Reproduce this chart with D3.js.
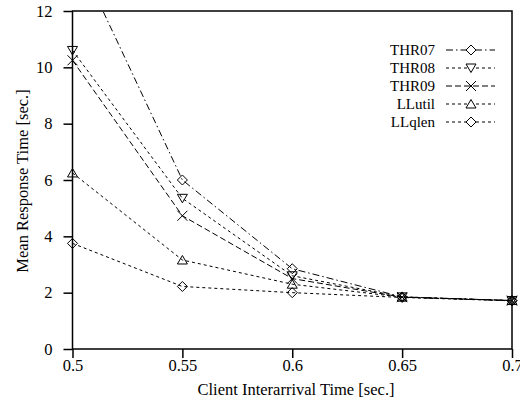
<!DOCTYPE html>
<html><head><meta charset="utf-8">
<script src="https://cdn.jsdelivr.net/npm/d3@7"></script>
<style>
body{margin:0;background:#fff;}
</style></head>
<body><svg id="c" width="520" height="411"></svg>
<script>
const xValues = [0.5, 0.55, 0.6, 0.65, 0.7];
const seriesNames = ["THR07", "THR08", "THR09", "LLutil", "LLqlen"];
const thr07 = [14.3, 6.0, 2.85, 1.85, 1.72];
const thr08 = [10.6, 5.35, 2.6, 1.85, 1.72];
const thr09 = [10.25, 4.73, 2.5, 1.84, 1.72];
const llutil = [6.25, 3.16, 2.3, 1.84, 1.72];
const llqlen = [3.75, 2.22, 2.0, 1.83, 1.71];
const xTicks = [0.5, 0.55, 0.6, 0.65, 0.7];
const yTicks = [0, 2, 4, 6, 8, 10, 12];

const series = [
  {name: seriesNames[0], values: thr07, dash: "7,3,1.5,3", marker: "diamond"},
  {name: seriesNames[1], values: thr08, dash: "3,3", marker: "tridown"},
  {name: seriesNames[2], values: thr09, dash: "6,3", marker: "cross"},
  {name: seriesNames[3], values: llutil, dash: "3,3", marker: "triup"},
  {name: seriesNames[4], values: llqlen, dash: "3,3", marker: "diamond"}
];

const FONT = "'Liberation Serif', Tinos, 'Times New Roman', serif";
const svg = d3.select("#c").style("font-family", FONT);
const L = 72.5, R = 512, T = 11, B = 349;
const x = d3.scaleLinear().domain([0.5, 0.7]).range([L, R]);
const y = d3.scaleLinear().domain([0, 12]).range([B, T]);

svg.append("defs").append("clipPath").attr("id", "clip")
  .append("rect").attr("x", L).attr("y", T).attr("width", R - L).attr("height", B - T);

function markerPath(type, s) {
  const h = s / 2;
  if (type === "diamond") return `M0,${-h}L${h},0L0,${h}L${-h},0Z`;
  if (type === "tridown") return `M${-h},${-h*0.8}L${h},${-h*0.8}L0,${h*0.9}Z`;
  if (type === "triup") return `M${-h},${h*0.8}L${h},${h*0.8}L0,${-h*0.9}Z`;
  if (type === "cross") return `M${-h},${-h}L${h},${h}M${-h},${h}L${h},${-h}`;
}

const fs = 16.5;
const xAxis = d3.axisBottom(x).tickValues(xTicks).tickFormat(d3.format("")).tickSize(9).tickPadding(1);
const yAxis = d3.axisLeft(y).tickValues(yTicks).tickFormat(d3.format("d")).tickSize(9).tickPadding(11);
const gx = svg.append("g").attr("transform", `translate(0,${B})`).call(xAxis);
const gy = svg.append("g").attr("transform", `translate(${L},0)`).call(yAxis);
[gx, gy].forEach(g => {
  g.attr("font-family", null).attr("font-size", null);
  g.select(".domain").remove();
  g.selectAll("line").attr("stroke", "#000").attr("stroke-width", 1.5);
  g.selectAll("text").style("font-size", fs + "px").style("font-family", FONT).attr("fill", "#000");
});
svg.append("rect").attr("x", L).attr("y", T).attr("width", R - L).attr("height", B - T)
  .attr("fill", "none").attr("stroke", "#000").attr("stroke-width", 1.5);

const line = d3.line().x((d, i) => x(xValues[i])).y(d => y(d));
const plot = svg.append("g").attr("clip-path", "url(#clip)");
series.forEach(s => {
  plot.append("path").attr("d", line(s.values)).attr("fill", "none")
    .attr("stroke", "#000").attr("stroke-width", 1).attr("stroke-dasharray", s.dash);
});
series.forEach(s => {
  s.values.forEach((v, i) => {
    if (v > 12) return;
    svg.append("path").attr("d", markerPath(s.marker, 10))
      .attr("transform", `translate(${x(xValues[i])},${y(v)})`)
      .attr("fill", "none").attr("stroke", "#000").attr("stroke-width", 1);
  });
});

const legY0 = 50, legDy = 18, lfs = 15;
series.forEach((s, i) => {
  const yy = legY0 + i * legDy;
  svg.append("text").attr("x", 435).attr("y", yy).attr("dy", "0.35em").attr("text-anchor", "end")
    .style("font-size", lfs + "px").style("font-family", FONT).text(s.name);
  svg.append("line").attr("x1", 446).attr("x2", 495).attr("y1", yy).attr("y2", yy)
    .attr("stroke", "#000").attr("stroke-width", 1).attr("stroke-dasharray", s.dash);
  svg.append("path").attr("d", markerPath(s.marker, 10)).attr("transform", `translate(471,${yy})`)
    .attr("fill", "#fff").attr("stroke", "#000").attr("stroke-width", 1);
});

svg.append("text").attr("x", 296).attr("y", 395).attr("text-anchor", "middle")
  .style("font-size", fs + "px").style("font-family", FONT)
  .text("Client Interarrival Time [sec.]");
svg.append("text").attr("transform", "translate(22,181) rotate(-90)").attr("text-anchor", "middle")
  .attr("dy", "0.35em").style("font-size", fs + "px").style("font-family", FONT)
  .text("Mean Response Time [sec.]");
</script></body></html>
